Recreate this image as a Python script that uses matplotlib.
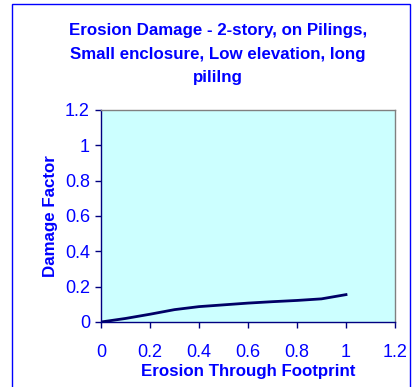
"""
Erosion damage curve: 2-story on pilings, small enclosure, low elevation, long piling
"""

import matplotlib
matplotlib.use('Agg')
import matplotlib.pyplot as plt
from matplotlib.patches import Rectangle

plt.rcParams['font.family'] = ['Liberation Sans', 'DejaVu Sans']

erosion = [0.0, 0.1, 0.2, 0.3, 0.4, 0.5, 0.6, 0.7, 0.8, 0.9, 1.0]
damage = [0.0, 0.02, 0.044, 0.07, 0.087, 0.097, 0.107, 0.115, 0.122, 0.131, 0.155]
xticks = [0, 0.2, 0.4, 0.6, 0.8, 1, 1.2]
yticks = [0, 0.2, 0.4, 0.6, 0.8, 1, 1.2]
xticklabels = ['0', '0.2', '0.4', '0.6', '0.8', '1', '1.2']
yticklabels = ['0', '0.2', '0.4', '0.6', '0.8', '1', '1.2']

blue = '#0000FF'

fig = plt.figure(figsize=(4.15, 3.87), dpi=100)
fig.patch.set_facecolor('white')

# outer chart border
fig.patches.append(Rectangle((12 / 415, -0.05), 398 / 415, 1.05 - 4 / 387,
                             transform=fig.transFigure, fill=False,
                             edgecolor=blue, linewidth=1.0))

ax = fig.add_axes([101 / 415, 1 - 322 / 387, 294 / 415, 212 / 387])
ax.set_facecolor('#CCFFFF')
ax.plot(erosion, damage, color='#000066', linewidth=2.0)

ax.set_xlim(0, 1.2)
ax.set_ylim(0, 1.2)
ax.set_xticks(xticks)
ax.set_xticklabels(xticklabels)
ax.set_yticks(yticks)
ax.set_yticklabels(yticklabels)

ax.tick_params(axis='x', direction='out', length=4, width=1, color='#000080',
               labelcolor=blue, labelsize=13, pad=12)
ax.tick_params(axis='y', direction='out', length=4, width=1, color='#000080',
               labelcolor=blue, labelsize=13, pad=4)

for s in ['left', 'bottom']:
    ax.spines[s].set_color('#000080')
    ax.spines[s].set_linewidth(1.0)
for s in ['top', 'right']:
    ax.spines[s].set_color('#808080')
    ax.spines[s].set_linewidth(1.0)

ax.set_xlabel('Erosion Through Footprint', color=blue, fontsize=12.2,
              fontweight='bold', labelpad=2)
ax.set_ylabel('Damage Factor', color=blue, fontsize=12.2,
              fontweight='bold', labelpad=5)

fig.text(218 / 415, 1 - 54 / 387,
         'Erosion Damage - 2-story, on Pilings,\nSmall enclosure, Low elevation, long\npililng',
         ha='center', va='center', color=blue, fontsize=12.2, fontweight='bold',
         linespacing=1.7)

plt.savefig('out.png', dpi=100)
